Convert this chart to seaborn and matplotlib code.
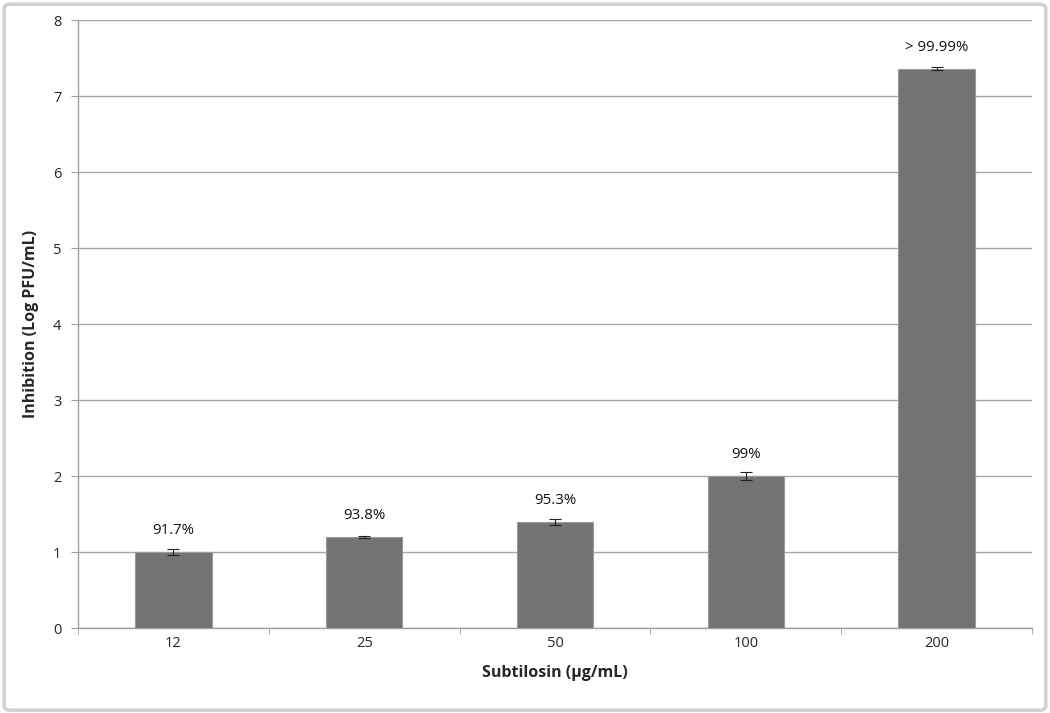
import matplotlib
matplotlib.use("Agg")
import matplotlib.pyplot as plt
import seaborn as sns
import pandas as pd
from matplotlib.patches import FancyBboxPatch

# values
doses = ["12", "25", "50", "100", "200"]
log_inhibition = [1.0, 1.2, 1.4, 2.0, 7.36]
errors = [0.04, 0.01, 0.04, 0.05, 0.02]
pct_labels = ["91.7%", "93.8%", "95.3%", "99%", "> 99.99%"]

df = pd.DataFrame({"dose": doses, "inhibition": log_inhibition})

sns.set_style("white")
plt.rcParams["font.family"] = ["Open Sans", "DejaVu Sans"]

fig = plt.figure(figsize=(10.5, 7.13), dpi=100)
ax = fig.add_axes([78 / 1050, 1 - 628 / 713, (1032 - 78) / 1050, (628 - 20) / 713])

sns.barplot(data=df, x="dose", y="inhibition", color="#737373", width=0.4,
            saturation=1, edgecolor="#9a9a9a", linewidth=0.8, ax=ax, zorder=3)

for bar, err, lab in zip(ax.patches, errors, pct_labels):
    cx = bar.get_x() + bar.get_width() / 2
    h = bar.get_height()
    ax.errorbar(cx, h, yerr=err, fmt="none", ecolor="#222222", elinewidth=0.8,
                capsize=4, capthick=0.8, zorder=4)
    ax.text(cx, h + 0.18, lab, ha="center", va="bottom", fontsize=10.8, color="#111111")

ax.set_ylim(0, 8)
ax.set_xlim(-0.5, 4.5)
ax.set_yticks(range(0, 9))
ax.yaxis.grid(True, color="#a6a6a6", linewidth=1.0, zorder=0)
ax.set_axisbelow(True)

for s in ["top", "right"]:
    ax.spines[s].set_visible(False)
for s in ["left", "bottom"]:
    ax.spines[s].set_color("#a0a0a0")
    ax.spines[s].set_linewidth(1.0)

ax.tick_params(axis="y", which="major", length=5, color="#a0a0a0", labelsize=10.5, pad=7, left=True)
ax.tick_params(axis="x", which="major", length=0, labelsize=10.5, pad=6)
ax.set_xticks([i + 0.5 for i in range(-1, 5)], minor=True)
ax.tick_params(axis="x", which="minor", length=4, color="#a0a0a0", bottom=True)

ax.set_xlabel("Subtilosin (µg/mL)", fontsize=11.5, fontweight="bold", labelpad=10)
ax.set_ylabel("Inhibition (Log PFU/mL)", fontsize=11.5, fontweight="bold", labelpad=10)

border = FancyBboxPatch((0.004, 0.004), 0.992, 0.99, boxstyle="round,pad=0,rounding_size=0.006",
                        transform=fig.transFigure, fill=False, edgecolor="#d0d0d0", linewidth=2.5)
fig.patches.append(border)

fig.savefig("out.png", dpi=100)
